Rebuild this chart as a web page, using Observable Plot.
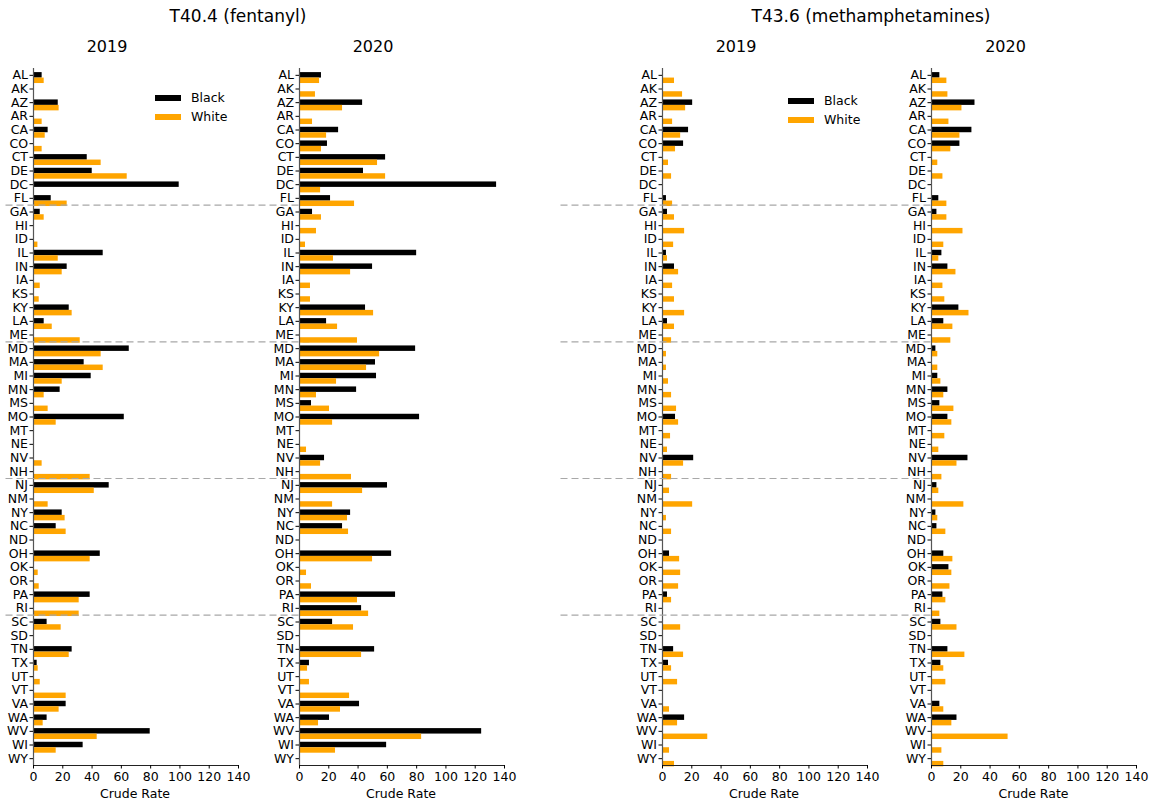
<!DOCTYPE html>
<html><head><meta charset="utf-8">
<script src="https://cdn.jsdelivr.net/npm/d3@7"></script>
<script src="https://cdn.jsdelivr.net/npm/@observablehq/plot@0.6"></script>
<style>
body{margin:0;background:#fff;font-family:"DejaVu Sans",sans-serif;}
#root{position:relative;width:1156px;height:808px;overflow:hidden;background:#fff;}
.abs{position:absolute;white-space:nowrap;color:#000;line-height:1;}
.panel{position:absolute;top:60px;}
.panel svg{overflow:visible;background:transparent;}
</style></head><body><div id="root"></div>
<script>
const states = ["AL","AK","AZ","AR","CA","CO","CT","DE","DC","FL","GA","HI","ID","IL","IN","IA","KS","KY","LA","ME","MD","MA","MI","MN","MS","MO","MT","NE","NV","NH","NJ","NM","NY","NC","ND","OH","OK","OR","PA","RI","SC","SD","TN","TX","UT","VT","VA","WA","WV","WI","WY"];
const groupStarts = ["GA","MD","NJ","SC"];
const xTicks = [0,20,40,60,80,100,120,140];
const seriesNames = ["Black","White"];
const seriesColors = ["#000000","#FFA500"];
const drugTitles = ["T40.4 (fentanyl)","T43.6 (methamphetamines)"];
const years = ["2019","2020"];

const fent2019Black = [5.9,null,16.9,null,10.0,null,36.7,40.1,99.5,12.1,
 4.6,null,null,47.6,23.0,null,null,24.4,7.3,null,
 65.4,34.6,39.4,18.2,null,62.0,null,null,null,null,
 51.7,null,19.6,15.5,null,45.6,null,null,38.7,null,
 9.3,null,26.4,2.5,null,null,22.3,9.3,79.7,33.9,null];
const fent2019White = [7.3,null,17.5,5.9,8.0,5.9,46.2,64.0,null,23.0,
 7.3,null,3.0,16.9,19.6,4.6,3.9,26.4,12.8,31.9,
 46.2,47.6,19.6,7.3,10.0,15.5,null,null,5.9,38.7,
 41.5,10.0,21.6,22.3,null,38.7,3.2,3.9,31.2,31.2,
 18.9,null,24.4,3.2,4.6,22.3,17.5,6.6,43.5,15.5,null];
const fent2020Black = [15.0,null,43.1,null,26.7,19.1,58.8,43.7,134.6,21.2,
 8.9,null,null,80.0,49.9,null,null,45.1,18.5,null,
 79.3,51.9,52.6,39.0,8.2,82.0,null,null,17.1,null,
 60.1,null,34.9,29.4,null,62.9,null,null,65.6,42.4,
 22.6,null,51.3,6.8,null,null,41.0,20.5,124.4,59.5,null];
const fent2020White = [13.7,10.9,29.4,8.9,18.5,15.0,53.3,58.8,14.4,37.6,
 15.0,11.6,4.1,23.2,34.9,7.5,7.5,50.6,26.0,39.6,
 54.7,45.8,25.3,11.6,20.5,22.6,null,4.8,14.4,35.5,
 43.1,22.6,32.8,33.5,null,49.9,4.8,8.2,39.6,47.2,
 36.9,null,42.4,5.5,6.8,34.2,28.0,13.0,83.4,24.6,null];
const meth2019Black = [null,null,20.6,null,17.8,14.4,null,null,null,2.7,
 3.4,null,null,2.7,8.2,null,null,null,3.4,null,
 null,null,null,null,null,8.9,null,null,21.3,null,
 null,null,null,null,null,4.8,null,null,3.4,null,
 null,null,7.6,4.1,null,null,null,15.1,null,null,null];
const meth2019White = [8.2,13.7,15.8,6.9,12.4,8.9,4.1,6.2,null,6.9,
 8.2,15.1,7.6,3.4,11.0,6.9,8.2,15.1,8.2,6.2,
 2.7,2.7,4.1,6.2,9.6,11.0,5.5,3.4,14.4,6.2,
 4.8,20.6,2.7,6.2,null,11.7,12.4,11.0,6.2,null,
 12.4,null,14.4,6.2,10.3,null,4.8,10.3,30.9,4.8,8.2];
const meth2020Black = [5.7,null,29.7,null,27.6,19.4,null,null,null,5.0,
 3.7,null,null,7.1,11.2,null,null,18.7,8.4,null,
 3.0,null,4.3,11.2,5.7,11.2,null,null,24.9,null,
 3.7,null,3.0,3.7,null,8.4,11.9,null,7.8,null,
 6.4,null,11.2,6.4,null,null,5.7,17.4,null,null,null];
const meth2020White = [10.5,11.2,20.8,11.9,19.4,13.2,4.3,7.8,null,10.5,
 10.5,21.5,8.4,5.0,16.7,7.8,9.1,25.6,14.6,13.2,
 4.3,4.3,6.4,8.4,15.3,13.9,9.1,5.0,17.4,7.1,
 5.0,22.1,4.3,9.8,null,14.6,13.9,12.6,9.8,5.7,
 17.4,null,22.8,8.4,9.8,null,8.4,13.9,52.3,7.1,8.4];

// layout
const FRAME_W = 205, ML = 40, MR = 20, MT = 8, MB = 43, H = 748;
const BW = (H - MT - MB) / states.length;
const pxPerUnit = FRAME_W / 140;

const panels = [
  {left: 32.5, black: fent2019Black, white: fent2019White, year: years[0], dash: [5, 313], legend: {x: 155, y: 95}},
  {left: 298.5, black: fent2020Black, white: fent2020White, year: years[1]},
  {left: 661.5, black: meth2019Black, white: meth2019White, year: years[0], dash: [560, 937], legend: {x: 788, y: 98}},
  {left: 931, black: meth2020Black, white: meth2020White, year: years[1]}
];

const root = document.getElementById("root");
function addText(txt, x, y, size, extra) {
  const d = document.createElement("div");
  d.className = "abs";
  d.textContent = txt;
  d.style.left = x + "px"; d.style.top = y + "px";
  d.style.fontSize = size + "px";
  d.style.transform = "translate(-50%,-50%)";
  if (extra) Object.assign(d.style, extra);
  root.appendChild(d);
}

addText(drugTitles[0], 238, 16, 17);
addText(drugTitles[1], 871, 16, 17);

panels.forEach(p => {
  const data = states.map((s, i) => ({state: s, black: p.black[i], white: p.white[i]}));
  const marks = [
    Plot.barX(data, {x: "black", y: "state", fill: seriesColors[0], insetTop: 0.3 * BW, insetBottom: 0.3 * BW}),
    Plot.barX(data, {x: "white", y: "state", fill: seriesColors[1], insetTop: 0.7 * BW, insetBottom: -0.1 * BW}),
    Plot.ruleX([0], {stroke: "#555", strokeWidth: 1.2}),
    Plot.ruleY([states[states.length - 1]], {dy: BW / 2, x1: 0, x2: 140, stroke: "#222", strokeWidth: 1}),
    Plot.axisY({tickSize: 3.5, tickPadding: 2, fontSize: 12.5, label: null}),
    Plot.axisX({ticks: xTicks, tickSize: 3.5, tickPadding: 3, fontSize: 12.5, label: null})
  ];
  if (p.dash) {
    const x1 = (p.dash[0] - p.left) / pxPerUnit, x2 = (p.dash[1] - p.left) / pxPerUnit;
    marks.push(Plot.ruleY(groupStarts, {y: d => d, dy: -BW / 2, x1: () => x1, x2: () => x2, stroke: "#a8a8a8", strokeWidth: 1.2, strokeDasharray: "7,4"}));
  }
  const chart = Plot.plot({
    width: ML + FRAME_W + MR, height: H,
    marginLeft: ML, marginRight: MR, marginTop: MT, marginBottom: MB,
    style: {fontFamily: "DejaVu Sans", fontSize: "12.5px", color: "#000", background: "transparent", overflow: "visible"},
    x: {domain: [0, 140], label: null},
    y: {domain: states, padding: 0, label: null},
    marks
  });
  const wrap = document.createElement("div");
  wrap.className = "panel";
  wrap.style.left = (p.left - ML) + "px";
  wrap.appendChild(chart);
  root.appendChild(wrap);
  addText("Crude Rate", p.left + FRAME_W / 2, 794, 12.5);
  addText(p.year, p.left + FRAME_W / 2 - 28, 47, 16);
  if (p.legend) {
    seriesNames.forEach((name, k) => {
      const sw = document.createElement("div");
      sw.className = "abs";
      Object.assign(sw.style, {left: p.legend.x + "px", top: (p.legend.y + k * 19) + "px", width: "26px", height: "6px", background: seriesColors[k]});
      root.appendChild(sw);
      addText(name, p.legend.x + 36, p.legend.y + 3 + k * 19, 12.5, {transform: "translate(0,-50%)"});
    });
  }
});
</script></body></html>
